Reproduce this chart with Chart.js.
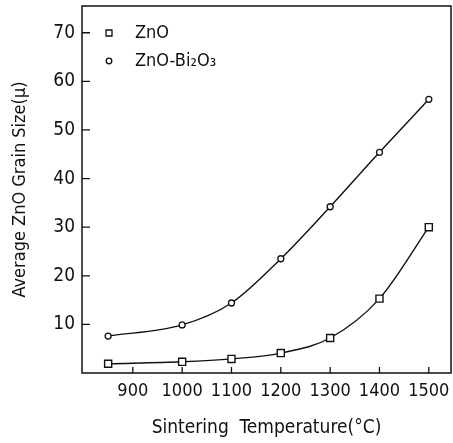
<!DOCTYPE html>
<html>
<head>
<meta charset="utf-8">
<script src="https://cdn.jsdelivr.net/npm/chart.js@4"></script>
<style>
  html, body { margin: 0; padding: 0; background: #fff; overflow: hidden; }
  canvas { display: block; }
</style>
</head>
<body>
<canvas id="grafica" width="453" height="443"></canvas>
<script>
const temps = [850, 1000, 1100, 1200, 1300, 1400, 1500];
const znO = [1.9, 2.3, 2.9, 4.1, 7.2, 15.3, 30.0];
const znOBi = [7.6, 9.9, 14.4, 23.5, 34.2, 45.4, 56.3];
const xTicks = [900, 1000, 1100, 1200, 1300, 1400, 1500];
const yTicks = [10, 20, 30, 40, 50, 60, 70];

const FONT = "'Liberation Sans Narrow', 'DejaVu Sans Condensed', sans-serif";
const ink = '#111';

const toPoints = (vals) => temps.map((t, i) => ({ x: t, y: vals[i] }));

// marco, ticks hacia dentro, etiquetas del eje x y leyenda
const frame = {
  id: 'frame',
  afterDraw(chart) {
    const { ctx, chartArea: a, scales } = chart;
    ctx.save();
    ctx.strokeStyle = ink;
    ctx.lineWidth = 1.5;
    ctx.strokeRect(a.left, a.top, a.right - a.left, a.bottom - a.top);
    ctx.lineWidth = 1.3;
    ctx.beginPath();
    xTicks.forEach(v => {
      const px = scales.x.getPixelForValue(v);
      ctx.moveTo(px, a.bottom);
      ctx.lineTo(px, a.bottom - 6);
    });
    yTicks.forEach(v => {
      const py = scales.y.getPixelForValue(v);
      ctx.moveTo(a.left, py);
      ctx.lineTo(a.left + 8, py);
    });
    ctx.stroke();

    ctx.fillStyle = ink;
    ctx.font = '18px ' + FONT;
    ctx.textAlign = 'center';
    ctx.textBaseline = 'middle';
    xTicks.forEach(v => {
      ctx.fillText(String(v), scales.x.getPixelForValue(v), a.bottom + 18);
    });

    // leyenda
    ctx.textAlign = 'left';
    chart.data.datasets.forEach((ds, i) => {
      const y = a.top + 27 + i * 28;
      const x = a.left + 27;
      ctx.lineWidth = 1.3;
      ctx.beginPath();
      if (ds.pointStyle === 'rect') {
        ctx.rect(x - 3, y - 3, 6, 6);
      } else {
        ctx.arc(x, y, 2.8, 0, Math.PI * 2);
      }
      ctx.stroke();
      ctx.fillText(ds.label, a.left + 53, y);
    });
    ctx.restore();
  }
};

new Chart(document.getElementById('grafica').getContext('2d'), {
  type: 'scatter',
  data: {
    datasets: [
      {
        label: 'ZnO',
        data: toPoints(znO),
        showLine: true,
        borderColor: ink,
        borderWidth: 1.4,
        cubicInterpolationMode: 'monotone',
        pointStyle: 'rect',
        pointRadius: 5,
        pointBorderWidth: 1.4,
        pointBorderColor: ink,
        pointBackgroundColor: '#fff',
      },
      {
        label: 'ZnO-Bi₂O₃',
        data: toPoints(znOBi),
        showLine: true,
        borderColor: ink,
        borderWidth: 1.4,
        cubicInterpolationMode: 'monotone',
        pointStyle: 'circle',
        pointRadius: 3,
        pointBorderWidth: 1.3,
        pointBorderColor: ink,
        pointBackgroundColor: '#fff',
      },
    ],
  },
  options: {
    responsive: false,
    animation: false,
    layout: { autoPadding: false, padding: { top: 6, right: 2, left: 0, bottom: 0 } },
    plugins: {
      legend: { display: false },
      tooltip: { enabled: false },
    },
    scales: {
      x: {
        type: 'linear',
        min: 797,
        max: 1545,
        afterBuildTicks: (s) => { s.ticks = xTicks.map(v => ({ value: v })); },
        afterFit: (s) => { s.height = 70; },
        grid: { display: false, drawTicks: false },
        border: { display: false },
        ticks: { display: false },
        title: {
          display: true,
          text: 'Sintering  Temperature(°C)',
          color: ink,
          padding: { top: 0, bottom: 4 },
          font: { family: FONT, size: 19 },
        },
      },
      y: {
        min: 0,
        max: 75.5,
        afterBuildTicks: (s) => { s.ticks = yTicks.map(v => ({ value: v })); },
        afterFit: (s) => { s.width = 82; s.paddingTop = 0; s.paddingBottom = 0; },
        grid: { display: false, drawTicks: false },
        border: { display: false },
        ticks: {
          color: ink,
          padding: 7,
          callback: (v) => String(v),
          font: { family: FONT, size: 19 },
        },
        title: {
          display: true,
          text: 'Average ZnO Grain Size(μ)',
          color: ink,
          padding: { top: 10, bottom: 4 },
          font: { family: FONT, size: 18 },
        },
      },
    },
  },
  plugins: [frame],
});
</script>
</body>
</html>
